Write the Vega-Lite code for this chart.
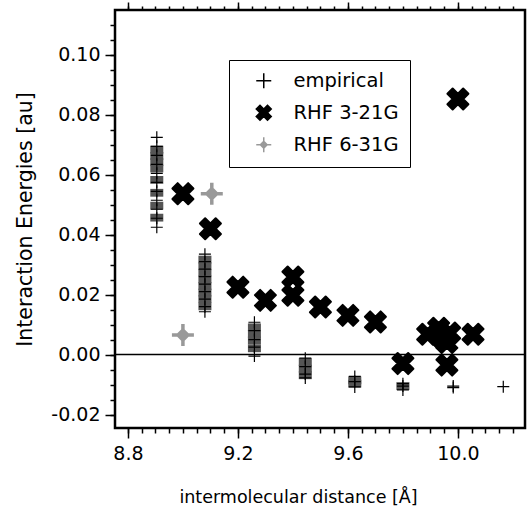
{
  "$schema": "https://vega.github.io/schema/vega-lite/v6.json",
  "width": 410,
  "height": 418,
  "autosize": {"type": "none"},
  "padding": {"left": 115, "top": 10, "right": 2, "bottom": 82},
  "background": "white",
  "config": {
    "view": {"stroke": "black", "strokeWidth": 2.5},
    "font": "DejaVu Sans",
    "axis": {
      "domain": false, "grid": false, "ticks": true, "tickColor": "black", "tickWidth": 1.5, "tickOpacity": 1,
      "labelColor": "black", "titleColor": "black",
      "labelFont": "DejaVu Sans", "titleFont": "DejaVu Sans",
      "labelFontSize": 19, "titleFontSize": 18, "titleFontWeight": "normal"
    }
  },
  "datasets": {
    "energies": [
      {"distance": 8.905, "energy": 0.0725, "method": "empirical"},
      {"distance": 8.905, "energy": 0.0695, "method": "empirical"},
      {"distance": 8.905, "energy": 0.0665, "method": "empirical"},
      {"distance": 8.905, "energy": 0.0635, "method": "empirical"},
      {"distance": 8.905, "energy": 0.0605, "method": "empirical"},
      {"distance": 8.905, "energy": 0.0575, "method": "empirical"},
      {"distance": 8.905, "energy": 0.0545, "method": "empirical"},
      {"distance": 8.905, "energy": 0.0515, "method": "empirical"},
      {"distance": 8.905, "energy": 0.0485, "method": "empirical"},
      {"distance": 8.905, "energy": 0.0455, "method": "empirical"},
      {"distance": 8.905, "energy": 0.0425, "method": "empirical"},
      {"distance": 9.08, "energy": 0.0335, "method": "empirical"},
      {"distance": 9.08, "energy": 0.031, "method": "empirical"},
      {"distance": 9.08, "energy": 0.0285, "method": "empirical"},
      {"distance": 9.08, "energy": 0.026, "method": "empirical"},
      {"distance": 9.08, "energy": 0.0235, "method": "empirical"},
      {"distance": 9.08, "energy": 0.021, "method": "empirical"},
      {"distance": 9.08, "energy": 0.0185, "method": "empirical"},
      {"distance": 9.08, "energy": 0.016, "method": "empirical"},
      {"distance": 9.08, "energy": 0.0143, "method": "empirical"},
      {"distance": 9.26, "energy": 0.0108, "method": "empirical"},
      {"distance": 9.26, "energy": 0.008, "method": "empirical"},
      {"distance": 9.26, "energy": 0.005, "method": "empirical"},
      {"distance": 9.26, "energy": 0.0025, "method": "empirical"},
      {"distance": 9.26, "energy": -0.0005, "method": "empirical"},
      {"distance": 9.445, "energy": -0.0012, "method": "empirical"},
      {"distance": 9.445, "energy": -0.004, "method": "empirical"},
      {"distance": 9.445, "energy": -0.0065, "method": "empirical"},
      {"distance": 9.445, "energy": -0.0078, "method": "empirical"},
      {"distance": 9.625, "energy": -0.0073, "method": "empirical"},
      {"distance": 9.625, "energy": -0.009, "method": "empirical"},
      {"distance": 9.625, "energy": -0.0108, "method": "empirical"},
      {"distance": 9.8, "energy": -0.0097, "method": "empirical"},
      {"distance": 9.8, "energy": -0.0105, "method": "empirical"},
      {"distance": 9.8, "energy": -0.0118, "method": "empirical"},
      {"distance": 9.983, "energy": -0.0105, "method": "empirical"},
      {"distance": 9.983, "energy": -0.011, "method": "empirical"},
      {"distance": 10.165, "energy": -0.0107, "method": "empirical"},
      {"distance": 9.0, "energy": 0.0537, "method": "RHF 3-21G"},
      {"distance": 9.1, "energy": 0.042, "method": "RHF 3-21G"},
      {"distance": 9.2, "energy": 0.0225, "method": "RHF 3-21G"},
      {"distance": 9.3, "energy": 0.0181, "method": "RHF 3-21G"},
      {"distance": 9.4, "energy": 0.0259, "method": "RHF 3-21G"},
      {"distance": 9.4, "energy": 0.0198, "method": "RHF 3-21G"},
      {"distance": 9.5, "energy": 0.0159, "method": "RHF 3-21G"},
      {"distance": 9.6, "energy": 0.0131, "method": "RHF 3-21G"},
      {"distance": 9.7, "energy": 0.0109, "method": "RHF 3-21G"},
      {"distance": 9.8, "energy": -0.003, "method": "RHF 3-21G"},
      {"distance": 9.89, "energy": 0.0068, "method": "RHF 3-21G"},
      {"distance": 9.93, "energy": 0.0088, "method": "RHF 3-21G"},
      {"distance": 9.945, "energy": 0.0055, "method": "RHF 3-21G"},
      {"distance": 9.96, "energy": 0.004, "method": "RHF 3-21G"},
      {"distance": 9.97, "energy": 0.0072, "method": "RHF 3-21G"},
      {"distance": 9.96, "energy": -0.0035, "method": "RHF 3-21G"},
      {"distance": 10.0, "energy": 0.0853, "method": "RHF 3-21G"},
      {"distance": 10.055, "energy": 0.0068, "method": "RHF 3-21G"},
      {"distance": 9.105, "energy": 0.0537, "method": "RHF 6-31G"},
      {"distance": 9.0, "energy": 0.0065, "method": "RHF 6-31G"}
    ],
    "scan": [
      {"distance": 8.905, "energy": 0.0684, "method": "RHF 6-31G"},
      {"distance": 8.905, "energy": 0.0663, "method": "RHF 6-31G"},
      {"distance": 8.905, "energy": 0.0642, "method": "RHF 6-31G"},
      {"distance": 8.905, "energy": 0.0621, "method": "RHF 6-31G"},
      {"distance": 8.905, "energy": 0.0583, "method": "RHF 6-31G"},
      {"distance": 8.905, "energy": 0.054, "method": "RHF 6-31G"},
      {"distance": 8.905, "energy": 0.0497, "method": "RHF 6-31G"},
      {"distance": 8.905, "energy": 0.0457, "method": "RHF 6-31G"},
      {"distance": 9.08, "energy": 0.0317, "method": "RHF 6-31G"},
      {"distance": 9.08, "energy": 0.0295, "method": "RHF 6-31G"},
      {"distance": 9.08, "energy": 0.0273, "method": "RHF 6-31G"},
      {"distance": 9.08, "energy": 0.0251, "method": "RHF 6-31G"},
      {"distance": 9.08, "energy": 0.0229, "method": "RHF 6-31G"},
      {"distance": 9.08, "energy": 0.0207, "method": "RHF 6-31G"},
      {"distance": 9.08, "energy": 0.0185, "method": "RHF 6-31G"},
      {"distance": 9.08, "energy": 0.0161, "method": "RHF 6-31G"},
      {"distance": 9.26, "energy": 0.0091, "method": "RHF 6-31G"},
      {"distance": 9.26, "energy": 0.0069, "method": "RHF 6-31G"},
      {"distance": 9.26, "energy": 0.0047, "method": "RHF 6-31G"},
      {"distance": 9.26, "energy": 0.0021, "method": "RHF 6-31G"},
      {"distance": 9.445, "energy": -0.0025, "method": "RHF 6-31G"},
      {"distance": 9.445, "energy": -0.0047, "method": "RHF 6-31G"},
      {"distance": 9.445, "energy": -0.0069, "method": "RHF 6-31G"},
      {"distance": 9.625, "energy": -0.0086, "method": "RHF 6-31G"},
      {"distance": 9.625, "energy": -0.0097, "method": "RHF 6-31G"},
      {"distance": 9.8, "energy": -0.0105, "method": "RHF 6-31G"}
    ]
  },
  "resolve": {"axis": {"x": "independent", "y": "independent"}},
  "layer": [
    {
      "data": {"values": [{}]},
      "mark": {"type": "rule", "color": "black", "strokeWidth": 1.5},
      "encoding": {
        "y": {
          "datum": 0, "type": "quantitative",
          "scale": {"domain": [-0.0245, 0.115], "nice": false, "zero": false},
          "axis": {
            "orient": "left", "values": [-0.02, 0, 0.02, 0.04, 0.06, 0.08, 0.1],
            "tickSize": 10, "labelPadding": 5, "tickColor": "black", "zindex": 3,
            "labelExpr": "datum.value < 0 ? '-' + format(-datum.value, '.2f') : format(datum.value, '.2f')",
            "title": "Interaction Energies [au]", "titlePadding": 15, "titleFontSize": 20.5
          }
        }
      }
    },
    {
      "data": {"name": "scan"},
      "mark": {"type": "point", "shape": "M-1,-0.6L1,-0.6L1,0.6L-1,0.6Z", "filled": true, "color": "#555555", "size": 169, "opacity": 1, "strokeWidth": 0},
      "encoding": {
        "x": {
          "field": "distance", "type": "quantitative",
          "scale": {"domain": [8.753, 10.244], "nice": false, "zero": false},
          "axis": {
            "orient": "bottom", "values": [8.8, 9.2, 9.6, 10.0], "format": ".1f",
            "tickSize": 10, "labelPadding": 6, "tickColor": "black", "zindex": 3,
            "title": "intermolecular distance [Å]", "titlePadding": 25, "titleFontSize": 17.5, "titleX": 183
          }
        },
        "y": {
          "field": "energy", "type": "quantitative",
          "scale": {"domain": [-0.0245, 0.115], "nice": false, "zero": false},
          "axis": {
            "orient": "left", "tickSize": 5, "labels": false, "title": null, "tickColor": "black", "zindex": 3,
            "values": [-0.02, -0.015, -0.01, -0.005, 0, 0.005, 0.01, 0.015, 0.02, 0.025, 0.03, 0.035, 0.04, 0.045, 0.05, 0.055, 0.06, 0.065, 0.07, 0.075, 0.08, 0.085, 0.09, 0.095, 0.1, 0.105, 0.11]
          }
        }
      }
    },
    {
      "data": {"name": "energies"},
      "transform": [{"filter": "datum.method === 'RHF 6-31G'"}],
      "mark": {"type": "point", "filled": true, "size": 484, "strokeWidth": 3.5, "opacity": 1},
      "encoding": {
        "x": {
          "field": "distance", "type": "quantitative",
          "scale": {"domain": [8.753, 10.244], "nice": false, "zero": false},
          "axis": {
            "orient": "bottom", "tickSize": 5, "labels": false, "title": null, "tickColor": "black", "zindex": 3,
            "values": [8.8, 8.85, 8.9, 8.95, 9.0, 9.05, 9.1, 9.15, 9.2, 9.25, 9.3, 9.35, 9.4, 9.45, 9.5, 9.55, 9.6, 9.65, 9.7, 9.75, 9.8, 9.85, 9.9, 9.95, 10.0, 10.05, 10.1, 10.15, 10.2]
          }
        },
        "y": {
          "field": "energy", "type": "quantitative",
          "scale": {"domain": [-0.0245, 0.115], "nice": false, "zero": false},
          "axis": null
        },
        "shape": {
          "field": "method", "type": "nominal",
          "scale": {"domain": ["empirical", "RHF 3-21G", "RHF 6-31G"], "range": ["M-1,0L1,0M0,-1L0,1", "M-1,-0.5L-0.5,-1L0,-0.5L0.5,-1L1,-0.5L0.5,0L1,0.5L0.5,1L0,0.5L-0.5,1L-1,0.5L-0.5,0Z", "M-1,0L1,0M0,-1L0,1M-0.45,0L0,-0.45L0.45,0L0,0.45Z"]},
          "legend": {"orient": "none", "legendX": 114, "legendY": 50, "title": null, "padding": 11, "strokeColor": "black", "fillColor": "white", "labelFont": "DejaVu Sans", "labelFontSize": 19.5, "labelColor": "black", "symbolSize": 225, "symbolStrokeWidth": 1.5, "rowPadding": 10, "symbolOffset": 14, "labelOffset": 20, "cornerRadius": 0, "encode": {"legend": {"update": {"strokeWidth": {"value": 2}}}}}
        },
        "fill": {
          "field": "method", "type": "nominal",
          "scale": {"domain": ["empirical", "RHF 3-21G", "RHF 6-31G"], "range": ["black", "black", "#a8a8a8"]},
          "legend": {"orient": "none", "legendX": 114, "legendY": 50, "title": null}
        },
        "stroke": {
          "field": "method", "type": "nominal",
          "scale": {"domain": ["empirical", "RHF 3-21G", "RHF 6-31G"], "range": ["black", "black", "#999999"]},
          "legend": {"orient": "none", "legendX": 114, "legendY": 50, "title": null}
        }
      }
    },
    {
      "data": {"name": "energies"},
      "transform": [{"filter": "datum.method === 'RHF 3-21G'"}],
      "mark": {"type": "point", "filled": true, "size": 441, "strokeWidth": 2, "strokeJoin": "round", "opacity": 1},
      "encoding": {
        "x": {
          "field": "distance", "type": "quantitative",
          "scale": {"domain": [8.753, 10.244], "nice": false, "zero": false},
          "axis": {
            "orient": "top", "values": [8.8, 9.2, 9.6, 10.0],
            "tickSize": 8, "labels": false, "title": null, "tickColor": "black", "zindex": 3
          }
        },
        "y": {
          "field": "energy", "type": "quantitative",
          "scale": {"domain": [-0.0245, 0.115], "nice": false, "zero": false},
          "axis": null
        },
        "shape": {
          "field": "method", "type": "nominal",
          "scale": {"domain": ["empirical", "RHF 3-21G", "RHF 6-31G"], "range": ["M-1,0L1,0M0,-1L0,1", "M-1,-0.5L-0.5,-1L0,-0.5L0.5,-1L1,-0.5L0.5,0L1,0.5L0.5,1L0,0.5L-0.5,1L-1,0.5L-0.5,0Z", "M-1,0L1,0M0,-1L0,1M-0.45,0L0,-0.45L0.45,0L0,0.45Z"]}
        },
        "fill": {
          "field": "method", "type": "nominal",
          "scale": {"domain": ["empirical", "RHF 3-21G", "RHF 6-31G"], "range": ["black", "black", "#a8a8a8"]}
        },
        "stroke": {
          "field": "method", "type": "nominal",
          "scale": {"domain": ["empirical", "RHF 3-21G", "RHF 6-31G"], "range": ["black", "black", "#999999"]}
        }
      }
    },
    {
      "data": {"name": "energies"},
      "transform": [{"filter": "datum.method === 'empirical'"}],
      "mark": {"type": "point", "filled": true, "size": 144, "strokeWidth": 1.2, "opacity": 1},
      "encoding": {
        "x": {
          "field": "distance", "type": "quantitative",
          "scale": {"domain": [8.753, 10.244], "nice": false, "zero": false},
          "axis": {
            "orient": "top", "tickSize": 4, "labels": false, "title": null, "tickColor": "black", "zindex": 3,
            "values": [8.8, 8.85, 8.9, 8.95, 9.0, 9.05, 9.1, 9.15, 9.2, 9.25, 9.3, 9.35, 9.4, 9.45, 9.5, 9.55, 9.6, 9.65, 9.7, 9.75, 9.8, 9.85, 9.9, 9.95, 10.0, 10.05, 10.1, 10.15, 10.2]
          }
        },
        "y": {
          "field": "energy", "type": "quantitative",
          "scale": {"domain": [-0.0245, 0.115], "nice": false, "zero": false},
          "axis": null
        },
        "shape": {
          "field": "method", "type": "nominal",
          "scale": {"domain": ["empirical", "RHF 3-21G", "RHF 6-31G"], "range": ["M-1,0L1,0M0,-1L0,1", "M-1,-0.5L-0.5,-1L0,-0.5L0.5,-1L1,-0.5L0.5,0L1,0.5L0.5,1L0,0.5L-0.5,1L-1,0.5L-0.5,0Z", "M-1,0L1,0M0,-1L0,1M-0.45,0L0,-0.45L0.45,0L0,0.45Z"]}
        },
        "fill": {
          "field": "method", "type": "nominal",
          "scale": {"domain": ["empirical", "RHF 3-21G", "RHF 6-31G"], "range": ["black", "black", "#a8a8a8"]}
        },
        "stroke": {
          "field": "method", "type": "nominal",
          "scale": {"domain": ["empirical", "RHF 3-21G", "RHF 6-31G"], "range": ["black", "black", "#999999"]}
        }
      }
    }
  ]
}
